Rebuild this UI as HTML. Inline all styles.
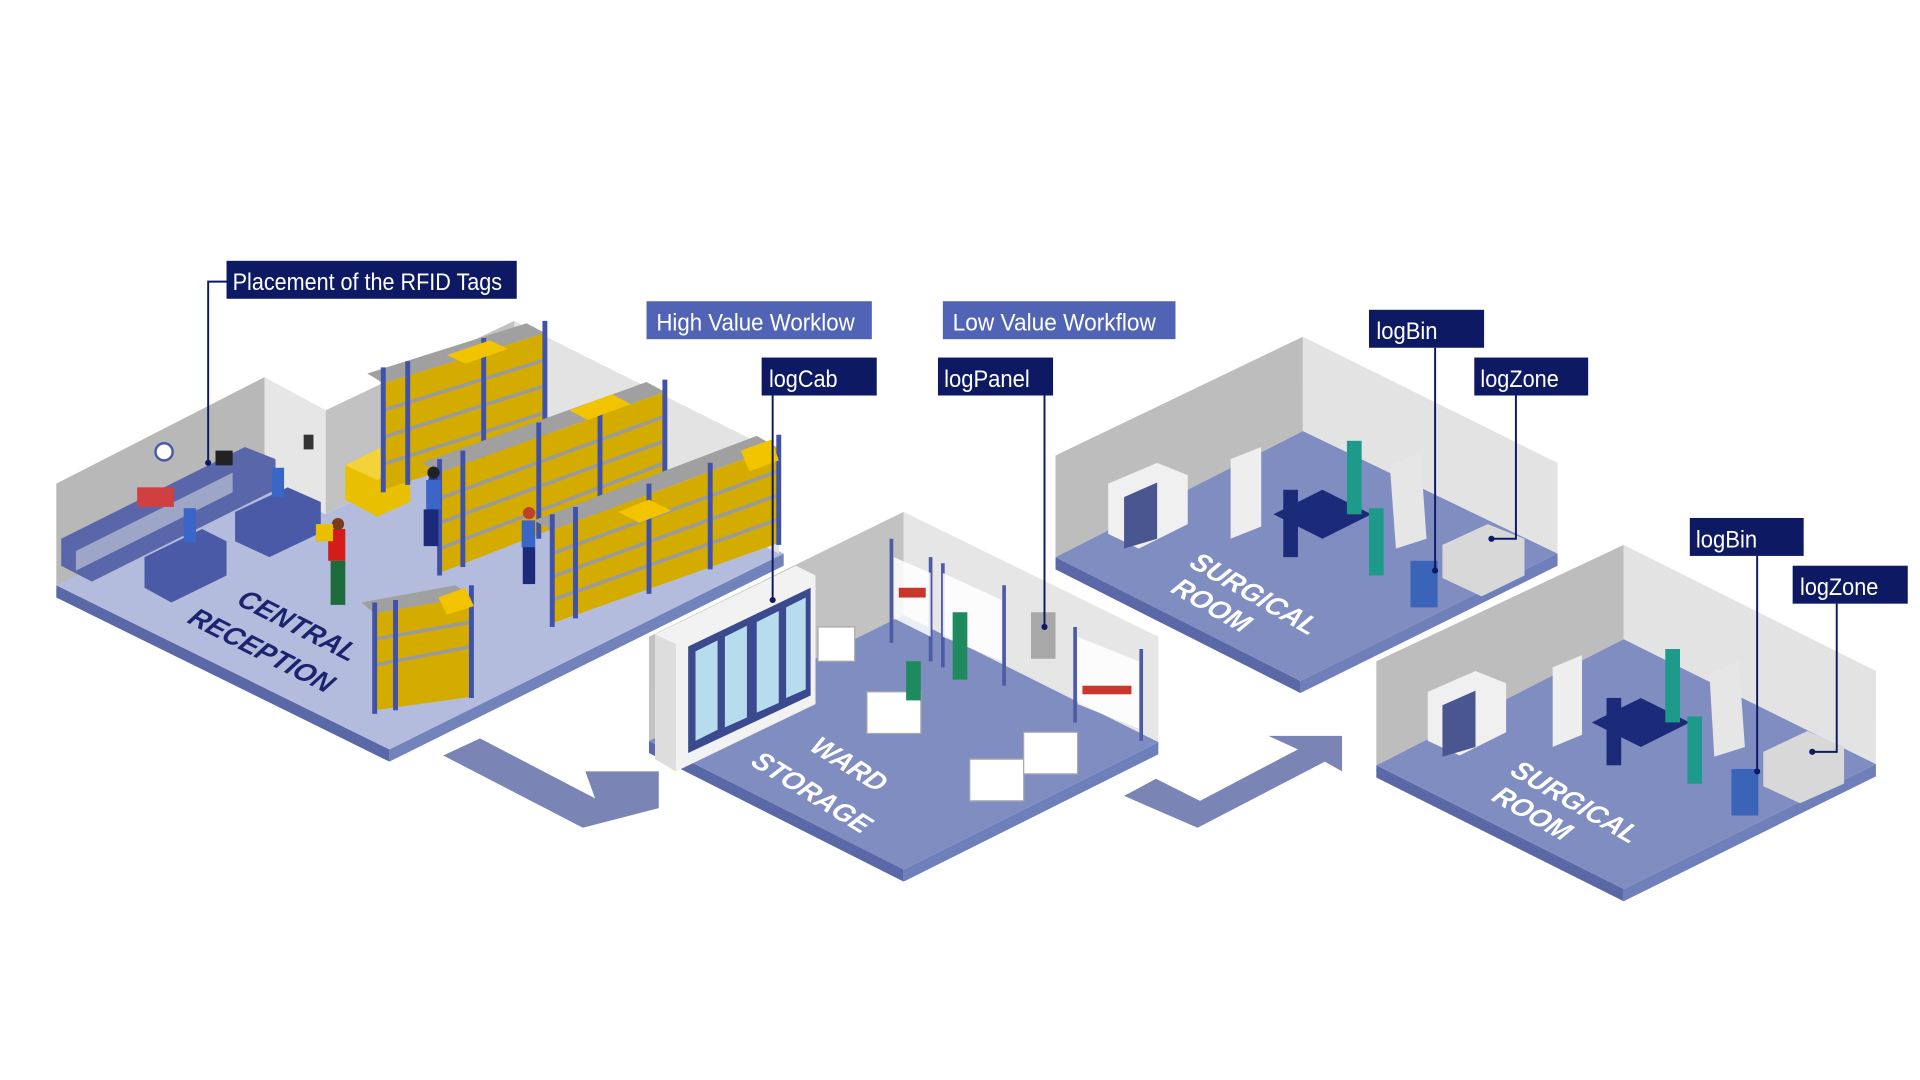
<!DOCTYPE html>
<html><head><meta charset="utf-8"><style>
html,body{margin:0;padding:0;background:#fff;}
svg{display:block}
.lbl{font-family:"Liberation Sans Narrow","Liberation Sans",sans-serif;font-size:20px;fill:#fff;}
.fl{font-family:"Liberation Sans",sans-serif;font-weight:bold;font-style:italic;font-size:22px;}
</style></head><body>
<svg width="1920" height="1080" viewBox="0 0 1568 882" preserveAspectRatio="none" xmlns="http://www.w3.org/2000/svg">
<rect width="1568" height="882" fill="#fff"/>

<!-- ===== Central Reception ===== -->
<polygon points="46,478 318,612 318,622 46,488" fill="#5a68a8"/>
<polygon points="318,612 640,452 640,462 318,622" fill="#7282bb"/>
<polygon points="46,478 318,612 640,452 420,345 266,420 216,395 56,470" fill="#b3bcdc"/>
<polygon points="46,395 216,308 216,395 46,478" fill="#b8b8b8"/>
<polygon points="216,308 266,335 266,420 216,395" fill="#e6e6e6"/>
<polygon points="266,335 420,262 420,345 266,420" fill="#c2c2c2"/>
<polygon points="420,262 636,370 636,452 420,345" fill="#e3e3e3"/>
<!-- office cabinets -->
<polygon points="50,440 200,365 225,375 225,400 75,475 50,462" fill="#5a66aa"/>
<polygon points="62,450 190,386 190,402 62,466" fill="#9ea6c8"/>
<polygon points="118,455 165,432 185,442 185,470 140,492 118,480" fill="#4a5aa6"/>
<polygon points="192,418 235,398 262,410 262,435 220,455 192,442" fill="#4a5aa6"/>
<circle cx="134" cy="369" r="7" fill="#fff" stroke="#4a5aa6" stroke-width="2"/>
<rect x="248" y="355" width="8" height="12" fill="#333"/>
<rect x="176" y="368" width="14" height="12" fill="#222"/>
<rect x="112" y="398" width="30" height="16" fill="#d04040"/>
<rect x="150" y="415" width="10" height="28" fill="#3a66c8"/>
<rect x="222" y="382" width="10" height="24" fill="#3a66c8"/>
<rect x="350" y="390" width="10" height="55" fill="#2a3d9e"/>
<rect x="427" y="420" width="10" height="55" fill="#1c2a7a"/>
<!-- pallet -->
<polygon points="282,380 310,366 335,378 335,410 308,422 282,408" fill="#e8c000"/>
<polygon points="282,380 310,366 335,378 308,392" fill="#f4d23a"/>
<!-- shelves: A -->
<g>
<polygon points="313,313 445,272 445,357 313,400" fill="#d4ac00"/>
<polygon points="313,313 445,272 430,264 300,305" fill="#a0a0a0"/>
<path d="M313,335 L445,294 M313,357 L445,315 M313,379 L445,337" stroke="#9a9a9a" stroke-width="3"/>
<path d="M313,300 V402 M333,295 V396 M395,276 V377 M445,262 V358" stroke="#3f51a8" stroke-width="4"/>
<polygon points="365,290 400,278 415,285 380,297" fill="#f2c400"/>
</g>
<!-- B -->
<g>
<polygon points="359,386 543,320 543,396 359,468" fill="#d4ac00"/>
<polygon points="359,386 543,320 528,312 344,378" fill="#a0a0a0"/>
<path d="M359,407 L543,340 M359,427 L543,360 M359,448 L543,378" stroke="#9a9a9a" stroke-width="3"/>
<path d="M359,375 V470 M378,368 V463 M440,345 V440 M490,330 V420 M543,310 V398" stroke="#3f51a8" stroke-width="4"/>
<polygon points="465,335 500,322 515,330 480,343" fill="#f2c400"/>
</g>
<!-- C -->
<g>
<polygon points="451,433 634,365 637,443 451,509" fill="#d4ac00"/>
<polygon points="451,433 634,365 618,356 436,425" fill="#a0a0a0"/>
<path d="M451,452 L635,385 M451,471 L636,404 M451,490 L636,424" stroke="#9a9a9a" stroke-width="3"/>
<path d="M451,420 V512 M470,414 V505 M530,395 V485 M580,378 V465 M636,355 V445" stroke="#3f51a8" stroke-width="4"/>
<polygon points="505,418 530,408 548,417 522,427" fill="#f2c400"/>
<polygon points="605,368 630,359 636,376 612,385" fill="#f2c400"/>
</g>
<!-- D -->
<g>
<polygon points="306,501 385,487 385,569 306,580" fill="#d4ac00"/>
<polygon points="306,501 385,487 372,478 295,492" fill="#a0a0a0"/>
<path d="M306,522 L385,508 M306,543 L385,528" stroke="#9a9a9a" stroke-width="3"/>
<path d="M306,492 V583 M323,490 V580 M385,478 V570" stroke="#3f51a8" stroke-width="4"/>
<polygon points="358,488 380,480 387,495 365,502" fill="#f2c400"/>
</g>
<!-- people -->
<rect x="268" y="432" width="14" height="26" fill="#d61b1b"/><rect x="270" y="458" width="12" height="36" fill="#1d6b3a"/><circle cx="276" cy="428" r="5" fill="#7a3b1c"/>
<rect x="258" y="428" width="14" height="14" fill="#e8c000"/>
<rect x="348" y="392" width="12" height="24" fill="#3a66c8"/><rect x="346" y="416" width="12" height="30" fill="#1c2a7a"/><circle cx="354" cy="386" r="5" fill="#222"/>
<rect x="426" y="425" width="11" height="22" fill="#3a66c8"/><rect x="427" y="447" width="10" height="30" fill="#1c2a7a"/><circle cx="432" cy="419" r="5" fill="#c0402a"/>
<text class="fl" fill="#1c2470" transform="translate(192,493) rotate(27) skewX(-10)">CENTRAL</text>
<text class="fl" fill="#1c2470" transform="translate(152,508) rotate(27) skewX(-10)">RECEPTION</text>

<!-- arrow 1 -->
<polygon points="362,617 392,603 486,652 478,630 538,630 538,660 476,676" fill="#7a85b5"/>

<!-- ===== Ward storage ===== -->
<polygon points="530,605 738,710 738,720 530,615" fill="#5a68a8"/>
<polygon points="738,710 946,606 946,616 738,720" fill="#6f7fb9"/>
<polygon points="530,605 738,710 946,606 738,502" fill="#7f8dc1"/>
<polygon points="530,520 738,418 738,502 530,605" fill="#c2c2c2"/>
<polygon points="738,418 946,520 946,606 738,502" fill="#e6e6e6"/>
<!-- cabinets -->
<polygon points="535,518 650,462 666,470 666,575 552,630 535,620" fill="#f2f2f2"/>
<polygon points="535,518 552,526 552,630 535,620" fill="#dddddd"/>
<polygon points="562,528 662,480 662,568 562,615" fill="#3b4a8e"/>
<polygon points="568,532 586,523 586,596 568,605" fill="#b7dcee"/>
<polygon points="592,520 610,511 610,586 592,594" fill="#b7dcee"/>
<polygon points="618,508 636,499 636,574 618,582" fill="#b7dcee"/>
<polygon points="642,496 658,488 658,563 642,570" fill="#b7dcee"/>
<!-- racks -->
<g stroke="#4d5ba6" stroke-width="3" fill="none">
<path d="M728,440 V525 M760,455 V540 M770,460 V545 M820,478 V560 M878,512 V590 M932,530 V605"/>
</g>
<polygon points="730,455 760,468 760,520 730,505" fill="#ffffff" opacity=".85"/>
<polygon points="770,468 818,490 818,540 770,520" fill="#ffffff" opacity=".85"/>
<polygon points="880,520 930,540 930,595 880,575" fill="#ffffff" opacity=".85"/>
<rect x="734" y="480" width="22" height="8" fill="#c8362c"/><rect x="884" y="560" width="40" height="7" fill="#c8362c"/>
<rect x="842" y="500" width="20" height="38" fill="#a8a8a8"/>
<rect x="668" y="512" width="30" height="28" fill="#fff" stroke="#aaa"/>
<rect x="708" y="565" width="44" height="34" fill="#fff" stroke="#aaa"/>
<rect x="792" y="620" width="44" height="34" fill="#fff" stroke="#aaa"/>
<rect x="836" y="598" width="44" height="34" fill="#fff" stroke="#aaa"/>
<rect x="740" y="540" width="12" height="32" fill="#1f8a5e"/><rect x="778" y="500" width="12" height="55" fill="#1f8a5e"/>
<text class="fl" fill="#fff" transform="translate(660,612) rotate(32) skewX(-10)">WARD</text>
<text class="fl" fill="#fff" transform="translate(612,624) rotate(32) skewX(-10)">STORAGE</text>

<!-- arrow 2 -->
<polygon points="918,650 944,636 980,654 1060,612 1036,601 1096,601 1096,630 1082,622 978,676" fill="#7a85b5"/>

<!-- ===== Surgical room 1 ===== -->
<polygon points="862,455 1062,556 1062,566 862,465" fill="#5a68a8"/>
<polygon points="1062,556 1272,452 1272,462 1062,566" fill="#6f7fb9"/>
<polygon points="862,455 1062,556 1272,452 1064,352" fill="#7f8dc1"/>
<polygon points="862,372 1064,275 1064,352 862,455" fill="#bdbdbd"/>
<polygon points="1064,275 1272,378 1272,452 1064,352" fill="#e3e3e3"/>
<polygon points="905,395 945,378 970,388 970,428 930,448 905,436" fill="#f0f0f0"/>
<polygon points="918,406 945,394 945,440 918,448" fill="#4a5690"/>
<polygon points="1005,375 1030,365 1030,430 1005,440" fill="#eeeeee"/>
<polygon points="1040,420 1080,400 1120,420 1080,440" fill="#1c2a7a"/>
<polygon points="1135,380 1160,370 1165,440 1140,448" fill="#e6e6e6"/>
<rect x="1048" y="400" width="12" height="55" fill="#1c2a7a"/><rect x="1100" y="360" width="12" height="60" fill="#1e9a8a"/><rect x="1118" y="415" width="12" height="55" fill="#1e9a8a"/>
<rect x="1152" y="458" width="22" height="38" fill="#3a64b8"/>
<polygon points="1178,445 1215,428 1245,440 1245,470 1210,487 1178,472" fill="#d8d8d8"/>
<text class="fl" fill="#fff" transform="translate(970,462) rotate(30) skewX(-10)">SURGICAL</text>
<text class="fl" fill="#fff" transform="translate(955,483) rotate(30) skewX(-10)">ROOM</text>

<!-- ===== Surgical room 2 ===== -->
<polygon points="1124,625 1326,726 1326,736 1124,635" fill="#5a68a8"/>
<polygon points="1326,726 1532,624 1532,634 1326,736" fill="#6f7fb9"/>
<polygon points="1124,625 1326,726 1532,624 1326,522" fill="#7f8dc1"/>
<polygon points="1124,540 1326,445 1326,522 1124,625" fill="#bdbdbd"/>
<polygon points="1326,445 1532,548 1532,624 1326,522" fill="#e3e3e3"/>
<polygon points="1166,565 1205,548 1230,558 1230,598 1192,617 1166,605" fill="#f0f0f0"/>
<polygon points="1178,576 1205,564 1205,610 1178,618" fill="#4a5690"/>
<polygon points="1268,545 1292,535 1292,600 1268,610" fill="#eeeeee"/>
<polygon points="1300,590 1340,570 1380,590 1340,610" fill="#1c2a7a"/>
<polygon points="1396,550 1420,540 1425,610 1400,618" fill="#e6e6e6"/>
<rect x="1312" y="570" width="12" height="55" fill="#1c2a7a"/><rect x="1360" y="530" width="12" height="60" fill="#1e9a8a"/><rect x="1378" y="585" width="12" height="55" fill="#1e9a8a"/>
<rect x="1414" y="628" width="22" height="38" fill="#3a64b8"/>
<polygon points="1440,614 1476,597 1506,610 1506,640 1470,656 1440,642" fill="#d8d8d8"/>
<text class="fl" fill="#fff" transform="translate(1232,632) rotate(30) skewX(-10)">SURGICAL</text>
<text class="fl" fill="#fff" transform="translate(1217,653) rotate(30) skewX(-10)">ROOM</text>

<!-- ===== leader lines ===== -->
<g stroke="#0d1a63" stroke-width="1.6" fill="none">
<path d="M186,230 H170 V378"/>
<path d="M631,323 V490"/>
<path d="M853,323 V512"/>
<path d="M1172,284 V466"/>
<path d="M1238,323 V440 H1218"/>
<path d="M1435,454 V630"/>
<path d="M1500,493 V614 H1480"/>
</g>
<g fill="#0d1a63">
<circle cx="170" cy="378" r="2.5"/><circle cx="631" cy="490" r="2.5"/><circle cx="853" cy="512" r="2.5"/>
<circle cx="1172" cy="466" r="2.5"/><circle cx="1218" cy="440" r="2.5"/><circle cx="1435" cy="630" r="2.5"/><circle cx="1480" cy="614" r="2.5"/>
</g>

<!-- ===== labels ===== -->
<rect x="185" y="213" width="237" height="31" fill="#0d1a63"/><text class="lbl" x="190" y="237" textLength="220" lengthAdjust="spacingAndGlyphs">Placement of the RFID Tags</text>
<rect x="528" y="246" width="184" height="31" fill="#5163b5"/><text class="lbl" x="536" y="270" textLength="162" lengthAdjust="spacingAndGlyphs">High Value Worklow</text>
<rect x="770" y="246" width="190" height="31" fill="#5163b5"/><text class="lbl" x="778" y="270" textLength="166" lengthAdjust="spacingAndGlyphs">Low Value Workflow</text>
<rect x="622" y="292" width="94" height="31" fill="#0d1a63"/><text class="lbl" x="628" y="316" textLength="56" lengthAdjust="spacingAndGlyphs">logCab</text>
<rect x="766" y="292" width="94" height="31" fill="#0d1a63"/><text class="lbl" x="771" y="316" textLength="70" lengthAdjust="spacingAndGlyphs">logPanel</text>
<rect x="1118" y="253" width="94" height="31" fill="#0d1a63"/><text class="lbl" x="1124" y="277" textLength="50" lengthAdjust="spacingAndGlyphs">logBin</text>
<rect x="1204" y="292" width="93" height="31" fill="#0d1a63"/><text class="lbl" x="1209" y="316" textLength="64" lengthAdjust="spacingAndGlyphs">logZone</text>
<rect x="1380" y="423" width="93" height="31" fill="#0d1a63"/><text class="lbl" x="1385" y="447" textLength="50" lengthAdjust="spacingAndGlyphs">logBin</text>
<rect x="1464" y="462" width="94" height="31" fill="#0d1a63"/><text class="lbl" x="1470" y="486" textLength="64" lengthAdjust="spacingAndGlyphs">logZone</text>
</svg>
</body></html>
